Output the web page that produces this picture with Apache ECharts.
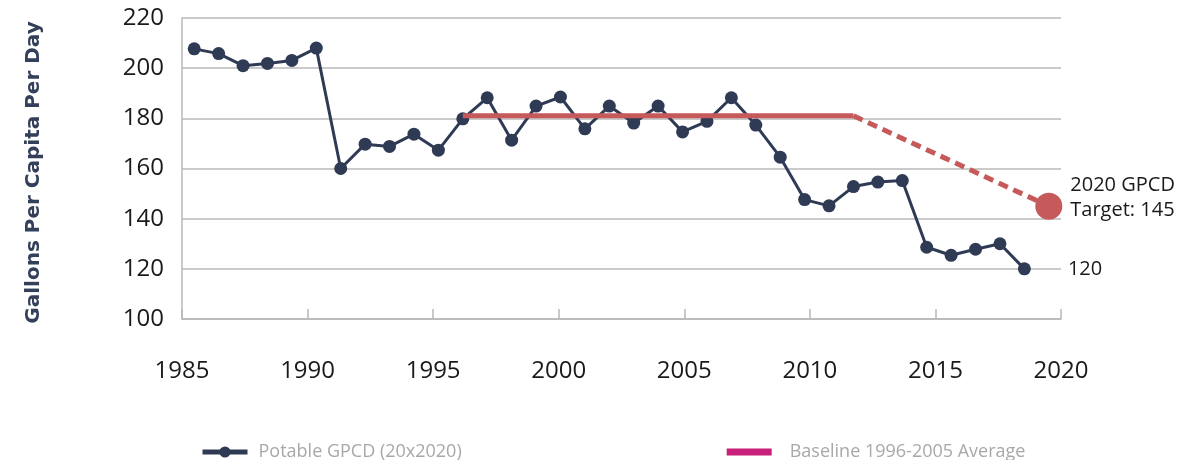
<!DOCTYPE html>
<html>
<head>
<meta charset="utf-8">
<script src="https://cdn.jsdelivr.net/npm/echarts@6/dist/echarts.min.js"></script>
<style>
  html, body { margin: 0; padding: 0; background: #fff; }
  #chart { width: 1186px; height: 460px; }
</style>
</head>
<body>
<div id="chart"></div>
<script>
// ---- Data ----
const categories = [1985,1986,1987,1988,1989,1990,1991,1992,1993,1994,1995,1996,1997,1998,1999,2000,
  2001,2002,2003,2004,2005,2006,2007,2008,2009,2010,2011,2012,2013,2014,2015,2016,2017,2018,2019,2020];
const potableGPCD = [207.7,205.8,201.0,201.9,203.1,208.0,160.0,169.7,168.8,173.7,167.3,179.8,188.2,171.3,
  184.9,188.5,175.8,184.9,178.1,184.9,174.6,178.8,188.2,177.3,164.5,147.6,145.1,152.8,154.6,155.2,
  128.6,125.4,127.8,130.0,120.0];
const baselineAverage = 181;       // 1996-2005 average
const baselineStartYear = 1996;
const baselineEndYear = 2012;
const targetYear = 2020;
const targetValue = 145;
const xTickLabels = [1985, 1990, 1995, 2000, 2005, 2010, 2015, 2020];
const yTickLabels = [100, 120, 140, 160, 180, 200, 220];

// ---- Build series arrays from the data ----
const potableData = categories.map((y, i) => (i < potableGPCD.length ? potableGPCD[i] : null));
const baselineData = categories.map(y => (y >= baselineStartYear && y <= baselineEndYear ? baselineAverage : null));
const trendData = categories.map(y => {
  if (y === baselineEndYear) return { value: baselineAverage, symbolSize: 0 };
  if (y === targetYear) return { value: targetValue, symbolSize: 27 };
  return null;
});
const lastIdx = potableGPCD.length - 1;
const potableSeriesData = potableData.map((v, i) => {
  if (i === lastIdx) {
    return { value: v, label: { show: true, position: 'right', distance: 37, formatter: String(Math.round(v)),
      fontSize: 20, color: '#1a1a1a', fontFamily: 'Open Sans' } };
  }
  return v;
});

const navy = '#2f3a54';
const red = '#c65a5b';
const textColor = '#1a1a1a';

const chart = echarts.init(document.getElementById('chart'), null, { renderer: 'canvas' });
chart.setOption({
  animation: false,
  backgroundColor: '#ffffff',
  grid: { left: 182, right: 125, top: 18, bottom: 141, containLabel: false },
  legend: {
    left: 200,
    top: 443,
    padding: 0,
    itemWidth: 45,
    itemHeight: 14,
    itemGap: 265,
    textStyle: { fontSize: 18, color: '#a8a8a8', fontFamily: 'Open Sans', padding: [0, 0, 0, 6] },
    data: [
      { name: 'Potable GPCD (20x2020)', lineStyle: { width: 5 } },
      { name: 'Baseline 1996-2005 Average', icon: 'path://M0,0H45V7H0Z', itemStyle: { color: '#c8207a' },
        textStyle: { padding: [0, 0, 0, 13] } }
    ]
  },
  xAxis: [
    {
      type: 'value',
      min: 1985, max: 2020, interval: 5,
      position: 'bottom',
      axisLine: { show: true, lineStyle: { color: '#b8b8b8', width: 1.5 } },
      axisTick: { show: true, inside: true, length: 10, lineStyle: { color: '#b8b8b8', width: 1.5 } },
      splitLine: { show: false },
      axisLabel: { fontSize: 24, color: textColor, fontFamily: 'Open Sans', margin: 40,
        formatter: v => (xTickLabels.includes(v) ? String(v) : '') }
    },
    {
      type: 'category',
      data: categories,
      boundaryGap: true,
      show: false
    }
  ],
  yAxis: {
    type: 'value',
    min: 100, max: 220, interval: 20,
    name: 'Gallons Per Capita Per Day',
    nameLocation: 'middle',
    nameGap: 138,
    nameTextStyle: { fontSize: 20, fontWeight: 'bold', color: '#34405a', fontFamily: 'DejaVu Sans',
      padding: [0, 8, 0, 0] },
    axisLine: { show: true, lineStyle: { color: '#b8b8b8', width: 1.5 } },
    axisTick: { show: false },
    splitLine: { show: true, lineStyle: { color: '#b8b8b8', width: 1.5 } },
    axisLabel: { fontSize: 24, color: textColor, fontFamily: 'Open Sans', margin: 18,
      formatter: v => (yTickLabels.includes(v) ? String(v) : '') }
  },
  series: [
    {
      name: 'Potable GPCD (20x2020)',
      type: 'line',
      xAxisIndex: 1,
      data: potableSeriesData,
      symbol: 'circle',
      symbolSize: 13,
      showAllSymbol: true,
      itemStyle: { color: navy },
      lineStyle: { color: navy, width: 3 },
      z: 2
    },
    {
      name: 'Baseline 1996-2005 Average',
      type: 'line',
      xAxisIndex: 1,
      data: baselineData,
      symbol: 'none',
      itemStyle: { color: red },
      lineStyle: { color: red, width: 5 },
      z: 3
    },
    {
      name: 'Target trend',
      type: 'line',
      xAxisIndex: 1,
      data: trendData,
      connectNulls: true,
      symbol: 'circle',
      showSymbol: true,
      showAllSymbol: true,
      clip: false,
      itemStyle: { color: red },
      lineStyle: { color: red, width: 5, type: [10, 6] },
      label: {
        show: true,
        position: 'right',
        distance: 8,
        offset: [0, -8],
        fontSize: 20,
        lineHeight: 25,
        color: textColor,
        fontFamily: 'Open Sans',
        formatter: p => (categories[p.dataIndex] === targetYear ? '2020 GPCD\nTarget: ' + targetValue : '')
      },
      z: 3
    }
  ]
});
</script>
</body>
</html>
